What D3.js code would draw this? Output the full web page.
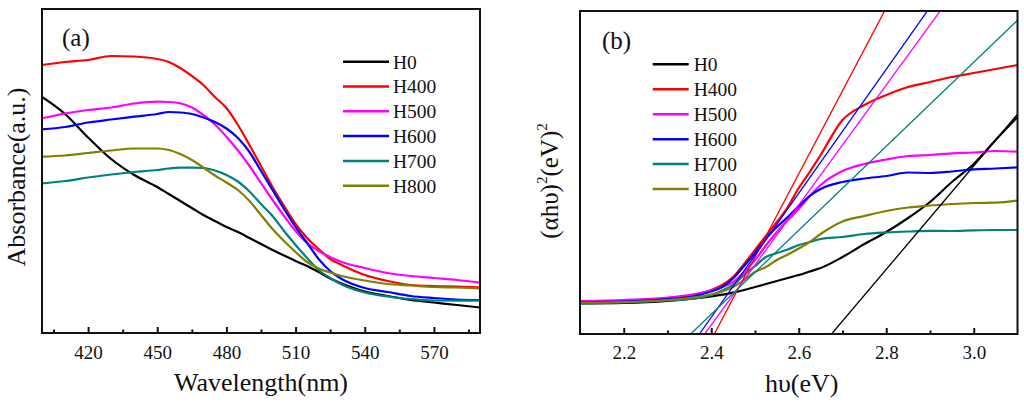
<!DOCTYPE html>
<html>
<head>
<meta charset="utf-8">
<script src="https://cdnjs.cloudflare.com/ajax/libs/d3/7.8.5/d3.min.js"></script>
<style>
    body { margin: 0; background: #fff; }
    svg text { font-family: "Liberation Serif", "Times New Roman", serif; fill: #111; }
</style>
</head>
<body>
<div id="chart"></div>
<script>

// Series names and colours (shared by both panels)
const seriesNames = ["H0", "H400", "H500", "H600", "H700", "H800"];
const seriesColors = ["#000000", "#ff0000", "#ff00ff", "#0000ff", "#008080", "#808000"];

// Panel (a): absorbance vs wavelength (a.u.)
const wavelength = [400, 410, 420, 430, 440, 450, 455, 460, 465, 470, 475, 480, 485, 490,
    495, 500, 505, 510, 515, 520, 525, 530, 540, 550, 560, 570, 580, 590];
const absH0 = [2.36, 2.19, 1.955, 1.74, 1.58, 1.46, 1.39, 1.32, 1.25, 1.18, 1.12, 1.06, 1.01, 0.95,
    0.89, 0.83, 0.775, 0.72, 0.67, 0.61, 0.545, 0.495, 0.415, 0.37, 0.33, 0.305, 0.28, 0.255];
const absH400 = [2.68, 2.71, 2.73, 2.77, 2.765, 2.74, 2.71, 2.65, 2.57, 2.48, 2.36, 2.25, 2.08, 1.88,
    1.67, 1.46, 1.27, 1.09, 0.95, 0.84, 0.74, 0.68, 0.58, 0.52, 0.48, 0.47, 0.465, 0.457];
const absH500 = [2.147, 2.195, 2.23, 2.255, 2.295, 2.313, 2.31, 2.297, 2.255, 2.18, 2.085, 1.963, 1.825, 1.67,
    1.50, 1.33, 1.17, 1.02, 0.90, 0.82, 0.76, 0.71, 0.65, 0.60, 0.57, 0.55, 0.53, 0.503];
const absH600 = [2.037, 2.06, 2.105, 2.135, 2.163, 2.19, 2.21, 2.205, 2.19, 2.155, 2.11, 2.045, 1.95, 1.81,
    1.62, 1.43, 1.24, 1.06, 0.90, 0.74, 0.62, 0.54, 0.45, 0.41, 0.37, 0.35, 0.335, 0.33];
const absH700 = [1.497, 1.52, 1.555, 1.585, 1.61, 1.63, 1.645, 1.653, 1.653, 1.65, 1.625, 1.58, 1.515, 1.415,
    1.29, 1.17, 1.02, 0.88, 0.75, 0.63, 0.55, 0.485, 0.405, 0.365, 0.34, 0.325, 0.323, 0.323];
const absH800 = [1.763, 1.775, 1.80, 1.825, 1.845, 1.845, 1.83, 1.79, 1.73, 1.655, 1.575, 1.505, 1.43, 1.32,
    1.18, 1.04, 0.92, 0.81, 0.71, 0.645, 0.605, 0.57, 0.525, 0.49, 0.475, 0.46, 0.455, 0.447];
const wavelengthTicks = [420, 450, 480, 510, 540, 570];
const wavelengthMinorTicks = [405, 435, 465, 495, 525, 555, 585];

// Panel (b): Tauc plot (alpha h nu)^2 vs photon energy
const energy = [2.1, 2.2, 2.3, 2.35, 2.4, 2.425, 2.45, 2.475, 2.5, 2.525, 2.55, 2.575,
    2.6, 2.625, 2.65, 2.7, 2.75, 2.8, 2.85, 2.9, 2.95, 3.0, 3.05, 3.1];
const taucH0 = [0.305, 0.31, 0.33, 0.35, 0.375, 0.393, 0.413, 0.44, 0.47, 0.50, 0.53, 0.56,
    0.59, 0.625, 0.66, 0.77, 0.90, 1.02, 1.16, 1.32, 1.52, 1.70, 1.94, 2.17];
const taucH400 = [0.315, 0.325, 0.355, 0.385, 0.44, 0.49, 0.57, 0.70, 0.84, 0.98, 1.12, 1.27,
    1.46, 1.62, 1.79, 2.14, 2.29, 2.39, 2.47, 2.52, 2.57, 2.61, 2.65, 2.69];
const taucH500 = [0.33, 0.34, 0.365, 0.39, 0.435, 0.47, 0.52, 0.62, 0.74, 0.885, 1.02, 1.14,
    1.25, 1.38, 1.49, 1.63, 1.70, 1.745, 1.78, 1.79, 1.807, 1.815, 1.83, 1.823];
const taucH600 = [0.32, 0.325, 0.35, 0.37, 0.425, 0.47, 0.557, 0.68, 0.81, 0.955, 1.07, 1.17,
    1.28, 1.38, 1.45, 1.52, 1.555, 1.58, 1.615, 1.61, 1.625, 1.647, 1.655, 1.667];
const taucH700 = [0.305, 0.315, 0.335, 0.35, 0.39, 0.435, 0.49, 0.59, 0.68, 0.77, 0.81, 0.845,
    0.89, 0.92, 0.95, 0.97, 1.00, 1.015, 1.025, 1.032, 1.03, 1.037, 1.04, 1.04];
const taucH800 = [0.315, 0.32, 0.34, 0.36, 0.395, 0.425, 0.47, 0.54, 0.62, 0.67, 0.74, 0.795,
    0.855, 0.92, 1.00, 1.125, 1.18, 1.23, 1.265, 1.285, 1.30, 1.31, 1.313, 1.333];
// Linear fits: x-intercept (band gap, eV) and slope; H800 has no fit line
const fitGap = [2.675, 2.407, 2.385, 2.373, 2.353, null];
const fitSlope = [5.17, 8.3, 6.0, 6.2, 4.2, null];
const energyTicks = [2.2, 2.4, 2.6, 2.8, 3.0];
const energyMinorTicks = [2.3, 2.5, 2.7, 2.9];


class SpectraPanel {

    constructor(_svg, _config) {
        this.svg = _svg;
        this.config = _config;

        this.initVis();
    }

    initVis() {
        let vis = this;
        let cfg = vis.config;

        vis.width = cfg.frame.right - cfg.frame.left;
        vis.height = cfg.frame.bottom - cfg.frame.top;

        vis.g = vis.svg.append("g")
            .attr("transform", "translate(" + cfg.frame.left + "," + cfg.frame.top + ")");

        // Scales
        vis.x = d3.scaleLinear().domain(cfg.xDomain).range([0, vis.width]);
        vis.y = d3.scaleLinear().domain(cfg.yDomain).range([vis.height, 0]);

        // Clip to frame
        vis.g.append("clipPath").attr("id", "clip-" + cfg.id)
            .append("rect").attr("width", vis.width).attr("height", vis.height);

        vis.plot = vis.g.append("g").attr("clip-path", "url(#clip-" + cfg.id + ")");

        // Axes (ticks pointing inward)
        vis.xAxis = d3.axisBottom(vis.x)
            .tickValues(cfg.ticks)
            .tickSizeInner(-6)
            .tickSizeOuter(0)
            .tickFormat(cfg.tickFormat);

        vis.xMinor = d3.axisBottom(vis.x)
            .tickValues(cfg.minorTicks)
            .tickSizeInner(-3.5)
            .tickSizeOuter(0)
            .tickFormat("");

        vis.updateVis();
    }

    updateVis() {
        let vis = this;
        let cfg = vis.config;

        // Curves
        let line = d3.line()
            .x((d, i) => vis.x(cfg.xValues[i]))
            .y(d => vis.y(d))
            .curve(d3.curveMonotoneX);

        vis.plot.selectAll(".curve")
            .data(cfg.series)
            .enter()
            .append("path")
            .attr("class", "curve")
            .attr("d", d => line(d))
            .attr("fill", "none")
            .attr("stroke", (d, i) => seriesColors[i])
            .attr("stroke-width", 2.2)
            .attr("stroke-linejoin", "round");

        // Linear fit lines (Tauc extrapolation)
        if (cfg.fits) {
            let fits = cfg.fits.filter(f => f.gap !== null);
            let xMax = cfg.xDomain[1];
            vis.plot.selectAll(".fit")
                .data(fits)
                .enter()
                .append("line")
                .attr("class", "fit")
                .attr("x1", d => vis.x(d.gap))
                .attr("y1", vis.y(0))
                .attr("x2", vis.x(xMax))
                .attr("y2", d => vis.y(d.slope * (xMax - d.gap)))
                .attr("stroke", d => d.color)
                .attr("stroke-width", 1.3);
        }

        // Axis groups
        let xg = vis.g.append("g")
            .attr("class", "x-axis axis")
            .attr("transform", "translate(0," + vis.height + ")")
            .call(vis.xAxis);
        xg.select(".domain").remove();
        xg.selectAll("line").attr("stroke", "#111").attr("stroke-width", 2);
        xg.selectAll("text")
            .attr("y", cfg.labelOffset)
            .attr("dy", null)
            .attr("fill", "#111")
            .style("font-size", "19px")
            .style("font-family", "'Liberation Serif', serif");

        let mg = vis.g.append("g")
            .attr("class", "x-axis minor")
            .attr("transform", "translate(0," + vis.height + ")")
            .call(vis.xMinor);
        mg.select(".domain").remove();
        mg.selectAll("line").attr("stroke", "#111").attr("stroke-width", 2);

        // Frame
        vis.g.append("rect")
            .attr("width", vis.width)
            .attr("height", vis.height)
            .attr("fill", "none")
            .attr("stroke", "#111")
            .attr("stroke-width", 2);

        // Panel tag
        vis.svg.append("text")
            .attr("x", cfg.tag.x)
            .attr("y", cfg.tag.y)
            .style("font-size", "25px")
            .text(cfg.tag.text);

        // Legend
        let leg = vis.svg.append("g").attr("class", "legend");
        seriesNames.forEach((name, i) => {
            let yy = cfg.legend.y0 + i * cfg.legend.dy;
            leg.append("line")
                .attr("x1", cfg.legend.x0).attr("x2", cfg.legend.x1)
                .attr("y1", yy).attr("y2", yy)
                .attr("stroke", seriesColors[i])
                .attr("stroke-width", 2.5);
            leg.append("text")
                .attr("x", cfg.legend.textX)
                .attr("y", yy + 6.8)
                .style("font-size", "19.5px")
                .text(name);
        });

        // X title
        vis.svg.append("text")
            .attr("x", cfg.frame.left + vis.width / 2 + cfg.xTitle.shift)
            .attr("y", cfg.xTitle.y)
            .attr("text-anchor", "middle")
            .style("font-size", "26px")
            .text(cfg.xTitle.text);

        // Y title
        let yt = vis.svg.append("text")
            .attr("transform", "translate(" + cfg.yTitle.x + "," + cfg.yTitle.y + ") rotate(-90)")
            .attr("text-anchor", "middle")
            .style("font-size", cfg.yTitle.size + "px");
        cfg.yTitle.parts.forEach(p => {
            let t = yt.append("tspan").text(p.text);
            if (p.sup) {
                t.style("font-size", "15px").attr("dy", -11);
            } else if (p.after) {
                t.attr("dy", 11);
            }
        });
    }
}


// Draw
let svg = d3.select("#chart").append("svg")
    .attr("width", 1024)
    .attr("height", 402)
    .style("background", "#fff");

new SpectraPanel(svg, {
    id: "a",
    frame: {left: 42, top: 9, right: 480, bottom: 333},
    xDomain: [400, 590],
    yDomain: [0, 3.24],
    xValues: wavelength,
    series: [absH0, absH400, absH500, absH600, absH700, absH800],
    ticks: wavelengthTicks,
    minorTicks: wavelengthMinorTicks,
    tickFormat: d3.format("d"),
    labelOffset: 25.5,
    tag: {text: "(a)", x: 62, y: 46},
    legend: {x0: 343, x1: 389, textX: 393, y0: 61.7, dy: 24.8},
    xTitle: {text: "Wavelength(nm)", y: 391, shift: 0},
    yTitle: {x: 25, y: 177, size: 26, parts: [{text: "Absorbance(a.u.)"}]}
});

new SpectraPanel(svg, {
    id: "b",
    frame: {left: 580, top: 11, right: 1017.5, bottom: 334},
    xDomain: [2.1, 3.1],
    yDomain: [0, 3.23],
    xValues: energy,
    series: [taucH0, taucH400, taucH500, taucH600, taucH700, taucH800],
    fits: fitGap.map((g, i) => ({gap: g, slope: fitSlope[i], color: seriesColors[i]})),
    ticks: energyTicks,
    minorTicks: energyMinorTicks,
    tickFormat: d3.format(".1f"),
    labelOffset: 24.5,
    tag: {text: "(b)", x: 602, y: 48.5},
    legend: {x0: 652.7, x1: 688.7, textX: 693.7, y0: 64.3, dy: 24.95},
    xTitle: {text: "hυ(eV)", y: 392, shift: 3},
    yTitle: {x: 558, y: 181, size: 25, parts: [
        {text: "(αhυ)"}, {text: "2", sup: true}, {text: "(eV)", after: true}, {text: "2", sup: true}
    ]}
});

</script>
</body>
</html>
